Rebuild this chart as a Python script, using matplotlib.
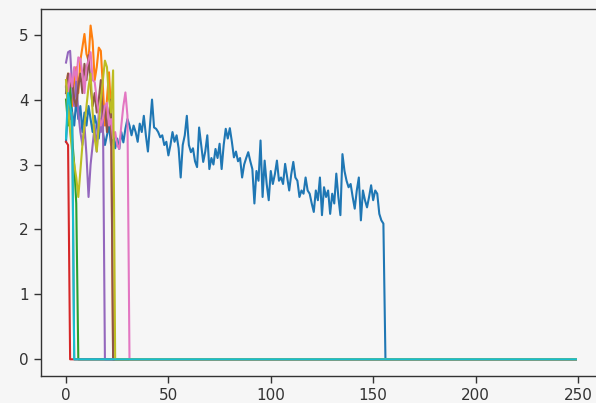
import numpy as np
import matplotlib
matplotlib.use("Agg")
import matplotlib.pyplot as plt

# number of samples per run (x = 0..249)
n_points = 250

# values; every run falls to zero after its last sample
blue = [3.35, 3.9, 4.2, 3.8, 3.6, 4.0, 3.7, 3.9, 3.5, 3.8,
        3.6, 3.9, 3.7, 3.5, 3.75, 3.6, 3.4, 3.7, 3.5, 3.3,
        3.45, 3.6, 3.3, 3.5, 3.25, 3.4, 3.24, 3.5, 3.34, 3.55,
        3.7, 3.6, 3.45, 3.6, 3.5, 3.35, 3.63, 3.5, 3.75, 3.45,
        3.2, 3.6, 4.0, 3.57, 3.55, 3.5, 3.42, 3.45, 3.3, 3.35,
        3.14, 3.3, 3.5, 3.35, 3.45, 3.25, 2.8, 3.3, 3.45, 3.75,
        3.3, 3.19, 3.25, 3.05, 2.96, 3.57, 3.3, 3.04, 3.2, 3.45,
        2.93, 3.1, 3.0, 3.24, 3.1, 3.32, 2.93, 3.3, 3.55, 3.4,
        3.56, 3.35, 3.11, 3.2, 3.05, 3.1, 2.8, 3.0, 3.1, 3.19,
        3.05, 2.93, 2.4, 2.9, 2.75, 3.37, 2.5, 3.06, 2.7, 2.45,
        2.9, 2.7, 2.85, 3.06, 2.75, 2.8, 2.7, 3.01, 2.8, 2.6,
        2.85, 3.04, 2.8, 2.75, 2.5, 2.6, 2.55, 2.8, 2.6, 2.55,
        2.4, 2.27, 2.6, 2.45, 2.8, 2.22, 2.65, 2.5, 2.6, 2.24,
        2.55, 2.4, 2.86, 2.5, 2.22, 3.16, 2.9, 2.75, 2.65, 2.7,
        2.5, 2.32, 2.6, 2.8, 2.14, 2.6, 2.45, 2.34, 2.5, 2.68,
        2.45, 2.6, 2.55, 2.24, 2.14, 2.09]
orange = [4.2, 4.4, 4.0, 3.9, 4.3, 4.5, 4.1, 4.6, 4.8, 5.01,
          4.7, 4.6, 5.14, 4.9, 4.3, 4.5, 4.8, 4.75, 4.2, 3.6,
          4.0, 4.42, 3.8]
green = [4.0, 3.6, 4.2, 3.4, 3.0, 2.4]
red = [3.35, 3.3]
purple = [4.57, 4.73, 4.75, 4.2, 3.9, 4.3, 3.8, 3.5, 3.3, 3.6,
          3.14, 2.5, 3.0, 3.3, 3.6, 3.2, 3.8, 3.5, 3.9]
brown = [4.1, 4.4, 4.2, 4.3, 4.0, 3.9, 4.2, 4.4, 4.1, 4.55,
         4.3, 4.68, 4.2, 3.9, 4.1, 3.8, 4.0, 4.3, 3.7, 3.9,
         3.5, 3.8, 4.0]
pink = [4.3, 4.1, 4.4, 4.2, 4.5, 4.3, 4.65, 4.63, 4.4, 4.1,
        4.5, 4.6, 4.73, 4.3, 4.27, 4.0, 3.8, 3.6, 3.7, 3.9,
        3.95, 3.6, 3.7, 3.4, 3.5, 3.3, 3.24, 3.6, 3.9, 4.11,
        3.75]
gray = [4.2, 3.9, 3.7, 3.8]
olive = [4.3, 3.9, 3.5, 3.2, 3.0, 2.8, 2.5, 2.9, 3.3, 3.6,
         3.9, 4.2, 4.4, 3.8, 3.4, 3.2, 3.6, 4.0, 4.3, 4.6,
         4.5, 4.0, 3.8, 4.45]
cyan = [3.4, 4.1, 3.9, 3.7]

runs = [blue, orange, green, red, purple, brown, pink, gray, olive, cyan]

bg = '#f6f6f6'
fig = plt.figure(figsize=(5.96, 4.03), dpi=100, facecolor=bg)
# right spine falls just outside the cropped picture
ax = fig.add_axes([0.068, 0.067, 0.941, 0.911], facecolor=bg)

x = np.arange(n_points)
for r in runs:
    y = np.zeros(n_points)
    y[:len(r)] = r
    ax.plot(x, y, lw=1.5)

ax.tick_params(labelsize=11, length=5, width=1.0, colors='#333333')
for s in ax.spines.values():
    s.set_color('#333333')
    s.set_linewidth(1.0)

fig.savefig('out.png', dpi=100, facecolor=bg)
